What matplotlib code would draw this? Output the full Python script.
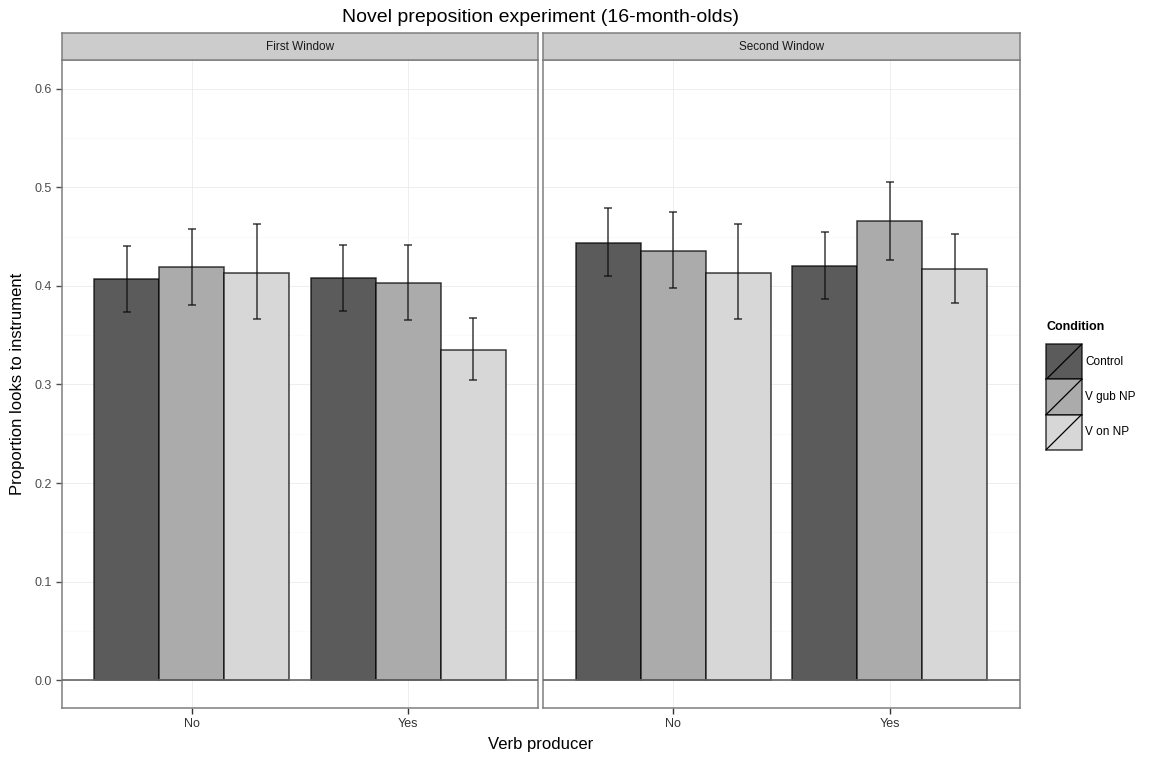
import matplotlib
matplotlib.use("Agg")
import matplotlib.pyplot as plt
import numpy as np
from matplotlib.patches import Rectangle
from matplotlib.lines import Line2D
from matplotlib.legend_handler import HandlerBase

plt.rcParams["font.family"] = ["Liberation Sans", "DejaVu Sans"]

# ---- data ----
windows = ["First Window", "Second Window"]
producer = ["No", "Yes"]
conditions = ["Control", "V gub NP", "V on NP"]
fills = ["#5b5b5b", "#ababab", "#d7d7d7"]

# mean proportion, [window][producer][condition]
means = [
    [[0.407, 0.419, 0.413], [0.408, 0.403, 0.335]],
    [[0.444, 0.436, 0.413], [0.420, 0.466, 0.417]],
]
err_lo = [
    [[0.374, 0.381, 0.366], [0.375, 0.365, 0.305]],
    [[0.410, 0.398, 0.366], [0.387, 0.426, 0.383]],
]
err_hi = [
    [[0.441, 0.458, 0.463], [0.442, 0.442, 0.368]],
    [[0.479, 0.475, 0.463], [0.455, 0.506, 0.453]],
]

W, H = 1151, 758
fig = plt.figure(figsize=(W / 100, H / 100), dpi=100)

GREY50 = "#7f7f7f"
panel_x = [(62, 538), (543, 1020)]
top, bot = 60, 708
strip_h = 27

x = np.arange(1, len(producer) + 1)
bw = 0.3
for w, (xl, xr) in enumerate(panel_x):
    ax = fig.add_axes([xl / W, (H - bot) / H, (xr - xl) / W, (bot - top) / H])
    ax.set_xlim(0.4, 2.6)
    ax.set_ylim(-0.0284, 0.6294)
    ax.set_yticks(np.arange(0, 0.61, 0.1))
    ax.set_yticks(np.arange(0.05, 0.65, 0.1), minor=True)
    ax.set_xticks(x)
    ax.set_xticklabels(producer)
    ax.grid(True, which="major", color="#ebebeb", lw=0.6, zorder=0)
    ax.grid(True, which="minor", axis="y", color="#fafafa", lw=0.6, zorder=0)
    ax.set_axisbelow(True)
    for s in ax.spines.values():
        s.set_color(GREY50); s.set_linewidth(1.1)
    ax.tick_params(colors="#4d4d4d", labelsize=9, length=4, width=1, which="major")
    ax.tick_params(which="minor", length=0)
    ax.tick_params(axis="x", colors="#333333", labelcolor="#333333")
    if w > 0:
        ax.tick_params(axis="y", left=False, labelleft=False)
    else:
        ax.set_yticklabels([f"{v:.1f}" for v in np.arange(0, 0.61, 0.1)])

    for c in range(len(conditions)):
        xs = x + (c - 1) * bw
        m = np.array([means[w][p][c] for p in range(len(producer))])
        lo = np.array([err_lo[w][p][c] for p in range(len(producer))])
        hi = np.array([err_hi[w][p][c] for p in range(len(producer))])
        ax.bar(xs, m, bw, color=fills[c], edgecolor=(0, 0, 0, 0.75), lw=1.1, zorder=2)
        ax.errorbar(xs, m, yerr=[m - lo, hi - m], fmt="none", ecolor=(0.05, 0.05, 0.05, 0.8),
                    elinewidth=1.1, capsize=3, capthick=1.1, zorder=3)
    ax.axhline(0, color="#666666", lw=1.2, zorder=4)

    # facet strip
    sax = fig.add_axes([xl / W, (H - top) / H, (xr - xl) / W, strip_h / H])
    sax.set_facecolor("#cccccc")
    sax.set_xticks([]); sax.set_yticks([])
    for s in sax.spines.values():
        s.set_color(GREY50); s.set_linewidth(1.1)
    sax.text(0.5, 0.5, windows[w], ha="center", va="center", fontsize=8.5, color="#1a1a1a",
             transform=sax.transAxes)

fig.text(541 / W, 1 - 18 / H, "Novel preposition experiment (16-month-olds)", ha="center",
         va="center", fontsize=14)
fig.text(541 / W, 1 - 745 / H, "Verb producer", ha="center", va="center", fontsize=12)
fig.text(18 / W, 1 - 384 / H, "Proportion looks to instrument", ha="center", va="center",
         rotation=90, fontsize=12)


class SlashHandler(HandlerBase):
    def create_artists(self, legend, orig_handle, xdescent, ydescent, width, height,
                       fontsize, trans):
        x0, y0 = -xdescent, -ydescent
        r = Rectangle((x0, y0), width, height, facecolor=orig_handle.get_facecolor(),
                      edgecolor=(0, 0, 0, 0.75), lw=1.1, transform=trans)
        ln = Line2D([x0, x0 + width], [y0, y0 + height], color="black", lw=0.9, transform=trans)
        return [r, ln]


handles = [Rectangle((0, 0), 1, 1, facecolor=f) for f in fills]
leg = fig.legend(handles, conditions, handler_map={Rectangle: SlashHandler()},
                 loc="upper left", bbox_to_anchor=(1045 / W, 1 - 320 / H), frameon=False,
                 fontsize=8.5, title="Condition", title_fontproperties={"weight": "bold", "size": 9},
                 handlelength=3.0, handleheight=4.2, labelspacing=0, handletextpad=0.3,
                 borderpad=0.1, borderaxespad=0)
leg._legend_box.align = "left"
leg._legend_box.sep = 8

fig.savefig("out.png", dpi=100)
